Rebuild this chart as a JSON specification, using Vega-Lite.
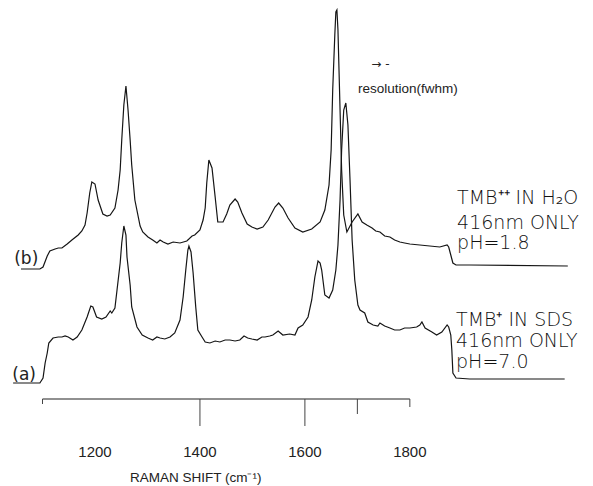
{
  "$schema": "https://vega.github.io/schema/vega-lite/v6.json",
  "width": 593,
  "height": 486,
  "padding": 0,
  "autosize": "none",
  "background": "white",
  "config": {"view": {"stroke": null}},
  "datasets": {
    "traces": [
      {"shift": 1059, "intensity": 130, "trace": "b"},
      {"shift": 1095, "intensity": 130, "trace": "b"},
      {"shift": 1101, "intensity": 132, "trace": "b"},
      {"shift": 1109, "intensity": 143, "trace": "b"},
      {"shift": 1114, "intensity": 148, "trace": "b"},
      {"shift": 1124, "intensity": 150, "trace": "b"},
      {"shift": 1130, "intensity": 151, "trace": "b"},
      {"shift": 1137, "intensity": 151, "trace": "b"},
      {"shift": 1147, "intensity": 155, "trace": "b"},
      {"shift": 1156, "intensity": 159, "trace": "b"},
      {"shift": 1168, "intensity": 164, "trace": "b"},
      {"shift": 1175, "intensity": 168, "trace": "b"},
      {"shift": 1181, "intensity": 174, "trace": "b"},
      {"shift": 1185, "intensity": 186, "trace": "b"},
      {"shift": 1190, "intensity": 206, "trace": "b"},
      {"shift": 1194, "intensity": 217, "trace": "b"},
      {"shift": 1200, "intensity": 215, "trace": "b"},
      {"shift": 1206, "intensity": 199, "trace": "b"},
      {"shift": 1215, "intensity": 185, "trace": "b"},
      {"shift": 1223, "intensity": 183, "trace": "b"},
      {"shift": 1229, "intensity": 184, "trace": "b"},
      {"shift": 1238, "intensity": 191, "trace": "b"},
      {"shift": 1244, "intensity": 209, "trace": "b"},
      {"shift": 1248, "intensity": 229, "trace": "b"},
      {"shift": 1251, "intensity": 259, "trace": "b"},
      {"shift": 1255, "intensity": 294, "trace": "b"},
      {"shift": 1259, "intensity": 313, "trace": "b"},
      {"shift": 1263, "intensity": 289, "trace": "b"},
      {"shift": 1267, "intensity": 259, "trace": "b"},
      {"shift": 1270, "intensity": 234, "trace": "b"},
      {"shift": 1276, "intensity": 199, "trace": "b"},
      {"shift": 1286, "intensity": 173, "trace": "b"},
      {"shift": 1291, "intensity": 167, "trace": "b"},
      {"shift": 1301, "intensity": 162, "trace": "b"},
      {"shift": 1310, "intensity": 159, "trace": "b"},
      {"shift": 1318, "intensity": 156, "trace": "b"},
      {"shift": 1324, "intensity": 159, "trace": "b"},
      {"shift": 1330, "intensity": 157, "trace": "b"},
      {"shift": 1339, "intensity": 155, "trace": "b"},
      {"shift": 1349, "intensity": 157, "trace": "b"},
      {"shift": 1362, "intensity": 156, "trace": "b"},
      {"shift": 1375, "intensity": 158, "trace": "b"},
      {"shift": 1385, "intensity": 163, "trace": "b"},
      {"shift": 1390, "intensity": 164, "trace": "b"},
      {"shift": 1400, "intensity": 169, "trace": "b"},
      {"shift": 1406, "intensity": 179, "trace": "b"},
      {"shift": 1410, "intensity": 191, "trace": "b"},
      {"shift": 1413, "intensity": 216, "trace": "b"},
      {"shift": 1417, "intensity": 239, "trace": "b"},
      {"shift": 1423, "intensity": 231, "trace": "b"},
      {"shift": 1429, "intensity": 202, "trace": "b"},
      {"shift": 1434, "intensity": 177, "trace": "b"},
      {"shift": 1444, "intensity": 177, "trace": "b"},
      {"shift": 1451, "intensity": 185, "trace": "b"},
      {"shift": 1457, "intensity": 194, "trace": "b"},
      {"shift": 1467, "intensity": 200, "trace": "b"},
      {"shift": 1472, "intensity": 197, "trace": "b"},
      {"shift": 1480, "intensity": 186, "trace": "b"},
      {"shift": 1490, "intensity": 175, "trace": "b"},
      {"shift": 1499, "intensity": 172, "trace": "b"},
      {"shift": 1509, "intensity": 170, "trace": "b"},
      {"shift": 1520, "intensity": 172, "trace": "b"},
      {"shift": 1530, "intensity": 179, "trace": "b"},
      {"shift": 1543, "intensity": 192, "trace": "b"},
      {"shift": 1550, "intensity": 196, "trace": "b"},
      {"shift": 1558, "intensity": 191, "trace": "b"},
      {"shift": 1568, "intensity": 181, "trace": "b"},
      {"shift": 1581, "intensity": 171, "trace": "b"},
      {"shift": 1596, "intensity": 167, "trace": "b"},
      {"shift": 1613, "intensity": 170, "trace": "b"},
      {"shift": 1629, "intensity": 177, "trace": "b"},
      {"shift": 1638, "intensity": 189, "trace": "b"},
      {"shift": 1646, "intensity": 214, "trace": "b"},
      {"shift": 1650, "intensity": 249, "trace": "b"},
      {"shift": 1653, "intensity": 309, "trace": "b"},
      {"shift": 1657, "intensity": 364, "trace": "b"},
      {"shift": 1659, "intensity": 387, "trace": "b"},
      {"shift": 1661, "intensity": 389, "trace": "b"},
      {"shift": 1663, "intensity": 369, "trace": "b"},
      {"shift": 1665, "intensity": 329, "trace": "b"},
      {"shift": 1667, "intensity": 289, "trace": "b"},
      {"shift": 1670, "intensity": 229, "trace": "b"},
      {"shift": 1674, "intensity": 184, "trace": "b"},
      {"shift": 1680, "intensity": 167, "trace": "b"},
      {"shift": 1690, "intensity": 177, "trace": "b"},
      {"shift": 1701, "intensity": 185, "trace": "b"},
      {"shift": 1709, "intensity": 177, "trace": "b"},
      {"shift": 1718, "intensity": 174, "trace": "b"},
      {"shift": 1728, "intensity": 171, "trace": "b"},
      {"shift": 1735, "intensity": 168, "trace": "b"},
      {"shift": 1743, "intensity": 167, "trace": "b"},
      {"shift": 1752, "intensity": 163, "trace": "b"},
      {"shift": 1762, "intensity": 162, "trace": "b"},
      {"shift": 1771, "intensity": 159, "trace": "b"},
      {"shift": 1781, "intensity": 157, "trace": "b"},
      {"shift": 1790, "intensity": 156, "trace": "b"},
      {"shift": 1800, "intensity": 155, "trace": "b"},
      {"shift": 1819, "intensity": 154, "trace": "b"},
      {"shift": 1838, "intensity": 153, "trace": "b"},
      {"shift": 1857, "intensity": 152, "trace": "b"},
      {"shift": 1871, "intensity": 154, "trace": "b"},
      {"shift": 1874, "intensity": 152, "trace": "b"},
      {"shift": 1878, "intensity": 144, "trace": "b"},
      {"shift": 1882, "intensity": 136, "trace": "b"},
      {"shift": 1888, "intensity": 134, "trace": "b"},
      {"shift": 1914, "intensity": 134, "trace": "b"},
      {"shift": 2101, "intensity": 133, "trace": "b"},
      {"shift": 1044, "intensity": 16, "trace": "a"},
      {"shift": 1095, "intensity": 16, "trace": "a"},
      {"shift": 1101, "intensity": 21, "trace": "a"},
      {"shift": 1105, "intensity": 36, "trace": "a"},
      {"shift": 1109, "intensity": 46, "trace": "a"},
      {"shift": 1112, "intensity": 56, "trace": "a"},
      {"shift": 1120, "intensity": 61, "trace": "a"},
      {"shift": 1130, "intensity": 62, "trace": "a"},
      {"shift": 1137, "intensity": 62, "trace": "a"},
      {"shift": 1143, "intensity": 63, "trace": "a"},
      {"shift": 1149, "intensity": 62, "trace": "a"},
      {"shift": 1158, "intensity": 59, "trace": "a"},
      {"shift": 1166, "intensity": 62, "trace": "a"},
      {"shift": 1175, "intensity": 69, "trace": "a"},
      {"shift": 1185, "intensity": 82, "trace": "a"},
      {"shift": 1192, "intensity": 93, "trace": "a"},
      {"shift": 1196, "intensity": 92, "trace": "a"},
      {"shift": 1203, "intensity": 82, "trace": "a"},
      {"shift": 1213, "intensity": 80, "trace": "a"},
      {"shift": 1221, "intensity": 82, "trace": "a"},
      {"shift": 1229, "intensity": 88, "trace": "a"},
      {"shift": 1232, "intensity": 86, "trace": "a"},
      {"shift": 1238, "intensity": 91, "trace": "a"},
      {"shift": 1242, "intensity": 109, "trace": "a"},
      {"shift": 1248, "intensity": 136, "trace": "a"},
      {"shift": 1251, "intensity": 156, "trace": "a"},
      {"shift": 1255, "intensity": 173, "trace": "a"},
      {"shift": 1259, "intensity": 164, "trace": "a"},
      {"shift": 1261, "intensity": 142, "trace": "a"},
      {"shift": 1267, "intensity": 114, "trace": "a"},
      {"shift": 1270, "intensity": 92, "trace": "a"},
      {"shift": 1280, "intensity": 72, "trace": "a"},
      {"shift": 1290, "intensity": 64, "trace": "a"},
      {"shift": 1301, "intensity": 61, "trace": "a"},
      {"shift": 1310, "intensity": 59, "trace": "a"},
      {"shift": 1318, "intensity": 62, "trace": "a"},
      {"shift": 1324, "intensity": 61, "trace": "a"},
      {"shift": 1333, "intensity": 60, "trace": "a"},
      {"shift": 1343, "intensity": 62, "trace": "a"},
      {"shift": 1352, "intensity": 66, "trace": "a"},
      {"shift": 1362, "intensity": 79, "trace": "a"},
      {"shift": 1368, "intensity": 102, "trace": "a"},
      {"shift": 1373, "intensity": 129, "trace": "a"},
      {"shift": 1377, "intensity": 149, "trace": "a"},
      {"shift": 1379, "intensity": 153, "trace": "a"},
      {"shift": 1383, "intensity": 147, "trace": "a"},
      {"shift": 1387, "intensity": 126, "trace": "a"},
      {"shift": 1392, "intensity": 92, "trace": "a"},
      {"shift": 1396, "intensity": 69, "trace": "a"},
      {"shift": 1404, "intensity": 62, "trace": "a"},
      {"shift": 1410, "intensity": 57, "trace": "a"},
      {"shift": 1419, "intensity": 56, "trace": "a"},
      {"shift": 1429, "intensity": 58, "trace": "a"},
      {"shift": 1438, "intensity": 57, "trace": "a"},
      {"shift": 1448, "intensity": 59, "trace": "a"},
      {"shift": 1457, "intensity": 59, "trace": "a"},
      {"shift": 1467, "intensity": 58, "trace": "a"},
      {"shift": 1476, "intensity": 59, "trace": "a"},
      {"shift": 1484, "intensity": 63, "trace": "a"},
      {"shift": 1491, "intensity": 61, "trace": "a"},
      {"shift": 1499, "intensity": 60, "trace": "a"},
      {"shift": 1509, "intensity": 59, "trace": "a"},
      {"shift": 1518, "intensity": 62, "trace": "a"},
      {"shift": 1524, "intensity": 62, "trace": "a"},
      {"shift": 1533, "intensity": 63, "trace": "a"},
      {"shift": 1539, "intensity": 64, "trace": "a"},
      {"shift": 1549, "intensity": 68, "trace": "a"},
      {"shift": 1558, "intensity": 64, "trace": "a"},
      {"shift": 1571, "intensity": 65, "trace": "a"},
      {"shift": 1581, "intensity": 64, "trace": "a"},
      {"shift": 1587, "intensity": 71, "trace": "a"},
      {"shift": 1596, "intensity": 74, "trace": "a"},
      {"shift": 1606, "intensity": 82, "trace": "a"},
      {"shift": 1613, "intensity": 99, "trace": "a"},
      {"shift": 1619, "intensity": 122, "trace": "a"},
      {"shift": 1625, "intensity": 138, "trace": "a"},
      {"shift": 1629, "intensity": 136, "trace": "a"},
      {"shift": 1632, "intensity": 129, "trace": "a"},
      {"shift": 1638, "intensity": 104, "trace": "a"},
      {"shift": 1646, "intensity": 101, "trace": "a"},
      {"shift": 1653, "intensity": 109, "trace": "a"},
      {"shift": 1659, "intensity": 129, "trace": "a"},
      {"shift": 1663, "intensity": 154, "trace": "a"},
      {"shift": 1667, "intensity": 199, "trace": "a"},
      {"shift": 1670, "intensity": 249, "trace": "a"},
      {"shift": 1674, "intensity": 289, "trace": "a"},
      {"shift": 1678, "intensity": 296, "trace": "a"},
      {"shift": 1682, "intensity": 274, "trace": "a"},
      {"shift": 1686, "intensity": 219, "trace": "a"},
      {"shift": 1690, "intensity": 159, "trace": "a"},
      {"shift": 1695, "intensity": 119, "trace": "a"},
      {"shift": 1701, "intensity": 94, "trace": "a"},
      {"shift": 1705, "intensity": 89, "trace": "a"},
      {"shift": 1714, "intensity": 86, "trace": "a"},
      {"shift": 1720, "intensity": 77, "trace": "a"},
      {"shift": 1730, "intensity": 74, "trace": "a"},
      {"shift": 1739, "intensity": 73, "trace": "a"},
      {"shift": 1743, "intensity": 76, "trace": "a"},
      {"shift": 1752, "intensity": 73, "trace": "a"},
      {"shift": 1762, "intensity": 71, "trace": "a"},
      {"shift": 1771, "intensity": 69, "trace": "a"},
      {"shift": 1781, "intensity": 69, "trace": "a"},
      {"shift": 1790, "intensity": 71, "trace": "a"},
      {"shift": 1800, "intensity": 71, "trace": "a"},
      {"shift": 1813, "intensity": 72, "trace": "a"},
      {"shift": 1819, "intensity": 74, "trace": "a"},
      {"shift": 1823, "intensity": 77, "trace": "a"},
      {"shift": 1829, "intensity": 71, "trace": "a"},
      {"shift": 1842, "intensity": 67, "trace": "a"},
      {"shift": 1851, "intensity": 64, "trace": "a"},
      {"shift": 1861, "intensity": 67, "trace": "a"},
      {"shift": 1871, "intensity": 74, "trace": "a"},
      {"shift": 1874, "intensity": 72, "trace": "a"},
      {"shift": 1878, "intensity": 64, "trace": "a"},
      {"shift": 1880, "intensity": 49, "trace": "a"},
      {"shift": 1882, "intensity": 26, "trace": "a"},
      {"shift": 1888, "intensity": 21, "trace": "a"},
      {"shift": 1914, "intensity": 20, "trace": "a"},
      {"shift": 2095, "intensity": 20, "trace": "a"}
    ],
    "axisline": [{"start": 1100, "end": 1800, "level": 0}],
    "ticks": [
      {"shift": 1100, "base": 0, "len": -5},
      {"shift": 1400, "base": 0, "len": -27},
      {"shift": 1600, "base": 0, "len": -27},
      {"shift": 1700, "base": 0, "len": -15},
      {"shift": 1800, "base": 0, "len": -8}
    ],
    "ticklabels": [
      {"shift": 1200, "intensity": -58, "label": "1200"},
      {"shift": 1400, "intensity": -58, "label": "1400"},
      {"shift": 1600, "intensity": -58, "label": "1600"},
      {"shift": 1800, "intensity": -58, "label": "1800"}
    ],
    "title": [{"shift": 1392, "intensity": -83, "text": "RAMAN SHIFT (cm⁻¹)"}],
    "tracelabels": [
      {"shift": 1069, "intensity": 135, "text": "(b)"},
      {"shift": 1065, "intensity": 19, "text": "(a)"}
    ],
    "resolution": [{"shift": 1701, "intensity": 306, "text": "resolution(fwhm)"}],
    "arrow": [{"shift": 1744, "intensity": 331, "text": "→ -"}],
    "legend": [
      {"shift": 1890, "intensity": 195, "text": "TMB⁺⁺ IN H₂O"},
      {"shift": 1890, "intensity": 170, "text": "416nm ONLY"},
      {"shift": 1890, "intensity": 150, "text": "pH=1.8"},
      {"shift": 1888, "intensity": 73, "text": "TMB⁺ IN SDS"},
      {"shift": 1888, "intensity": 52, "text": "416nm ONLY"},
      {"shift": 1888, "intensity": 31, "text": "pH=7.0"}
    ]
  },
  "encoding": {
    "x": {"field": "shift", "type": "quantitative", "scale": {"domain": [1019, 2149], "nice": false, "zero": false}, "axis": null},
    "y": {"field": "intensity", "type": "quantitative", "scale": {"domain": [-87, 399], "nice": false, "zero": false}, "axis": null}
  },
  "layer": [
    {
      "data": {"name": "traces"},
      "mark": {"type": "line", "color": "#151515", "strokeWidth": 1.2, "interpolate": "linear"},
      "encoding": {"detail": {"field": "trace"}}
    },
    {
      "data": {"name": "axisline"},
      "mark": {"type": "rule", "color": "#222", "strokeWidth": 1.2},
      "encoding": {
        "x": {"field": "start", "type": "quantitative"},
        "x2": {"field": "end"},
        "y": {"field": "level", "type": "quantitative"}
      }
    },
    {
      "data": {"name": "ticks"},
      "mark": {"type": "rule", "color": "#444", "strokeWidth": 1},
      "encoding": {
        "y": {"field": "base", "type": "quantitative"},
        "y2": {"field": "len"}
      }
    },
    {
      "data": {"name": "ticklabels"},
      "mark": {"type": "text", "font": "Liberation Sans", "fontSize": 15, "fontWeight": "normal", "baseline": "alphabetic", "align": "center", "color": "#222"},
      "encoding": {"text": {"field": "label"}}
    },
    {
      "data": {"name": "title"},
      "mark": {"type": "text", "font": "Liberation Sans", "fontSize": 13.5, "fontWeight": "normal", "baseline": "alphabetic", "align": "center", "color": "#222"},
      "encoding": {"text": {"field": "text"}}
    },
    {
      "data": {"name": "tracelabels"},
      "mark": {"type": "text", "font": "DejaVu Sans", "fontSize": 17, "baseline": "alphabetic", "align": "center", "color": "#222"},
      "encoding": {"text": {"field": "text"}}
    },
    {
      "data": {"name": "resolution"},
      "mark": {"type": "text", "font": "Liberation Sans", "fontSize": 13.5, "fontWeight": "normal", "baseline": "alphabetic", "align": "left", "color": "#222"},
      "encoding": {"text": {"field": "text"}}
    },
    {
      "data": {"name": "arrow"},
      "mark": {"type": "text", "font": "DejaVu Sans", "fontSize": 12, "baseline": "alphabetic", "align": "center", "color": "#222"},
      "encoding": {"text": {"field": "text"}}
    },
    {
      "data": {"name": "legend"},
      "mark": {"type": "text", "font": "DejaVu Sans", "fontSize": 19, "fontWeight": 200, "baseline": "alphabetic", "align": "left", "color": "#111"},
      "encoding": {"text": {"field": "text"}}
    }
  ]
}
